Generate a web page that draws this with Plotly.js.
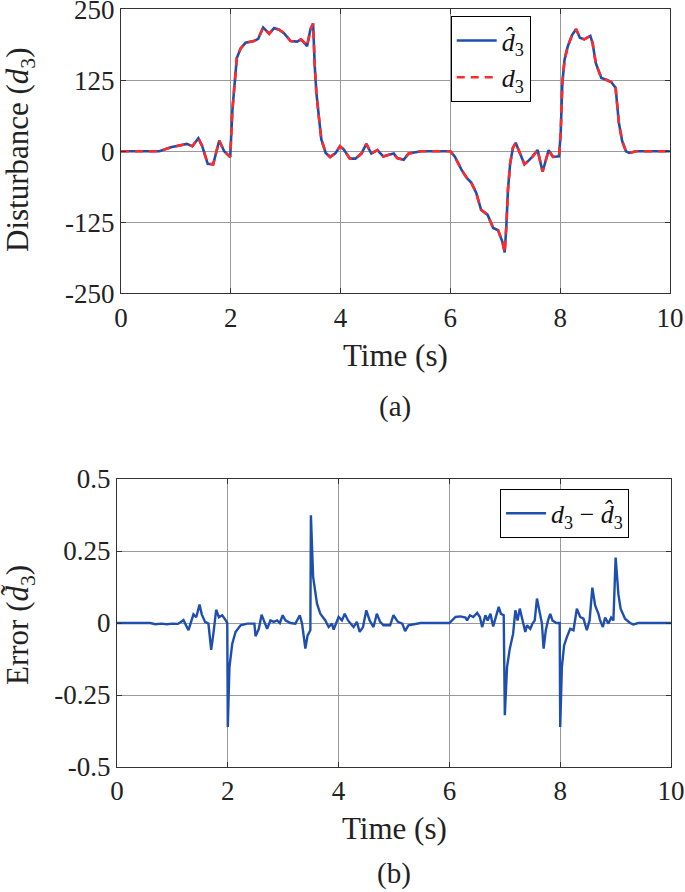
<!DOCTYPE html>
<html>
<head>
<meta charset="utf-8">
<script src="https://cdn.plot.ly/plotly-3.0.1.min.js"></script>
<style>html,body{margin:0;padding:0;background:#fff;}#chart{width:685px;height:892px;}</style>
</head>
<body>
<div id="chart"></div>
<script>
// ---- Data ----
// (a) Disturbance d3 and its estimate (visually identical in the figure)
const timeA = [0,0.70,0.91,1.09,1.2,1.3,1.41,1.48,1.58,1.68,1.79,1.88,1.99,2.03,2.07,2.11,2.18,2.27,2.42,2.5,2.59,2.7,2.79,2.88,2.97,3.09,3.21,3.28,3.33,3.39,3.45,3.5,3.53,3.56,3.61,3.65,3.73,3.81,3.91,3.99,4.06,4.17,4.27,4.38,4.47,4.56,4.67,4.78,4.88,4.97,5.03,5.15,5.24,5.29,5.47,6.0,6.08,6.2,6.3,6.38,6.47,6.56,6.68,6.78,6.87,6.95,6.99,7.02,7.05,7.09,7.14,7.19,7.26,7.35,7.43,7.5,7.59,7.68,7.75,7.79,7.87,7.98,8.01,8.04,8.08,8.14,8.22,8.29,8.36,8.44,8.55,8.59,8.65,8.75,8.84,8.93,9.01,9.07,9.13,9.2,9.26,9.38,10];
const d3Values = [0,0,7,10,13,9,23,9,-22,-23,19,0,-10,73,126,164,181,191,194,198,218,207,217,214,208,194,193,197,192,185,214,225,150,103,56,21,-3,-10,-3,9,3,-13,-13,-4,13,-4,2,-9,-6,-4,-12,-15,-4,-3,0,0,-9,-32,-47,-55,-73,-103,-112,-135,-139,-160,-178,-132,-67,-21,6,15,-3,-23,-16,-9,2,-36,-12,2,-10,-9,32,120,161,185,205,215,200,197,203,191,155,129,126,122,112,50,18,0,-3,0,0];
const d3HatValues = d3Values; // estimate overlaps the true disturbance in the figure

// (b) Estimation error d3 - d3hat
const timeB = [0,0.6,0.69,0.8,0.9,1.0,1.1,1.2,1.29,1.32,1.38,1.43,1.49,1.53,1.59,1.65,1.7,1.74,1.79,1.84,1.9,1.96,1.99,2.0,2.03,2.08,2.14,2.23,2.35,2.48,2.5,2.56,2.61,2.66,2.71,2.77,2.83,2.89,2.94,2.99,3.04,3.13,3.22,3.3,3.34,3.4,3.44,3.49,3.5,3.54,3.58,3.61,3.67,3.76,3.82,3.88,3.91,4.0,4.06,4.11,4.17,4.21,4.27,4.33,4.38,4.44,4.5,4.56,4.63,4.69,4.75,4.81,4.93,4.99,5.07,5.15,5.2,5.26,5.35,5.48,6.0,6.11,6.2,6.29,6.32,6.37,6.43,6.5,6.55,6.59,6.65,6.69,6.74,6.79,6.83,6.89,6.93,6.98,7.0,7.04,7.09,7.15,7.19,7.23,7.27,7.31,7.37,7.4,7.46,7.5,7.54,7.58,7.63,7.67,7.7,7.74,7.78,7.82,7.86,7.93,7.99,8.0,8.03,8.07,8.12,8.18,8.24,8.3,8.36,8.42,8.48,8.53,8.58,8.63,8.69,8.72,8.77,8.81,8.87,8.92,8.96,9.0,9.05,9.09,9.17,9.26,9.32,9.41,10];
const errValues = [0,0,-0.004,-0.002,-0.004,-0.002,-0.003,0.01,-0.025,-0.008,0.03,0.02,0.064,0.03,0.004,-0.002,-0.093,-0.037,0.046,0.02,0.027,0.01,0,-0.361,-0.153,-0.072,-0.031,-0.008,-0.002,-0.002,-0.046,-0.02,0.029,0.004,-0.02,0.009,0.004,0.009,0,0.027,0.009,0,-0.002,0.027,-0.002,-0.089,-0.043,-0.025,0.374,0.16,0.113,0.067,0.032,0.009,-0.014,-0.002,-0.023,0.021,0.009,0.032,0.009,-0.002,-0.014,0.004,-0.031,-0.014,0.044,0.009,-0.014,0.032,0.004,-0.008,-0.008,0.027,0.004,-0.002,-0.028,-0.008,-0.005,0,0,0.021,0.023,0.019,0.009,0.027,0.021,0.035,0.021,-0.014,0.027,0.009,0.032,-0.012,0.015,0.056,0.032,0.027,-0.32,-0.153,-0.089,-0.037,0.044,0.009,0.05,0.021,-0.031,-0.008,-0.02,-0.002,0.009,0.085,0.032,-0.002,-0.089,-0.025,0.009,0.032,0.009,0,0,-0.361,-0.153,-0.078,-0.049,-0.02,-0.025,0.05,0.021,0.015,-0.025,0.009,0.123,0.061,0.032,0.009,-0.014,0.019,-0.002,0.019,0.009,0.227,0.10,0.05,0.015,0,-0.005,0,0];

// Tick labels
const xTickVals = [0,2,4,6,8,10];
const xTickText = ['0','2','4','6','8','10'];
const yTickValsA = [-250,-125,0,125,250];
const yTickTextA = ['-250','-125','0','125','250'];
const yTickValsB = [-0.5,-0.25,0,0.25,0.5];
const yTickTextB = ['-0.5','-0.25','0','0.25','0.5'];

// Labels
const labelHat = '<i>d\u0302</i><sub>3</sub>';
const labelD3 = '<i>d</i><sub>3</sub>';
const labelErr = '<i>d</i><sub>3</sub> \u2212 <i>d\u0302</i><sub>3</sub>';

const FONT = '"Liberation Serif", "Times New Roman", "DejaVu Serif", serif';
const BLUE = '#1f4fae';
const RED = '#ff2a2a';

const traces = [
  {x: timeA, y: d3HatValues, type: 'scatter', mode: 'lines', name: labelHat,
   line: {color: BLUE, width: 2.6}, xaxis: 'x', yaxis: 'y', legend: 'legend'},
  {x: timeA, y: d3Values, type: 'scatter', mode: 'lines', name: labelD3,
   line: {color: RED, width: 2.6, dash: '8px,6px'}, xaxis: 'x', yaxis: 'y', legend: 'legend'},
  {x: timeB, y: errValues, type: 'scatter', mode: 'lines', name: labelErr,
   line: {color: BLUE, width: 2.4}, xaxis: 'x2', yaxis: 'y2', legend: 'legend2'}
];

const axCommon = {
  showline: true, linecolor: '#333', linewidth: 1, mirror: 'ticks',
  ticks: 'inside', ticklen: 5, tickcolor: '#333',
  showgrid: true, gridcolor: '#9a9a9a', gridwidth: 1,
  zeroline: false, automargin: false, ticklabeloverflow: 'allow',
  tickfont: {family: FONT, size: 27, color: '#222'}
};

const layout = {
  width: 685, height: 892,
  margin: {l: 0, r: 0, t: 0, b: 0},
  paper_bgcolor: '#fff', plot_bgcolor: '#fff',
  font: {family: FONT, color: '#222'},
  xaxis: Object.assign({}, axCommon, {domain: [0.1766, 0.978], range: [0, 10],
    tickmode: 'array', tickvals: xTickVals, ticktext: xTickText, anchor: 'y'}),
  yaxis: Object.assign({}, axCommon, {domain: [0.6712, 0.9896], range: [-250, 250],
    tickmode: 'array', tickvals: yTickValsA, ticktext: yTickTextA, anchor: 'x'}),
  xaxis2: Object.assign({}, axCommon, {domain: [0.1708, 0.9796], range: [0, 10],
    tickmode: 'array', tickvals: xTickVals, ticktext: xTickText, anchor: 'y2'}),
  yaxis2: Object.assign({}, axCommon, {domain: [0.1401, 0.463], range: [-0.5, 0.5],
    tickmode: 'array', tickvals: yTickValsB, ticktext: yTickTextB, anchor: 'x2'}),
  showlegend: true,
  legend: {x: 0.658, y: 0.982, xanchor: 'left', yanchor: 'top',
    bgcolor: '#fff', bordercolor: '#000', borderwidth: 1, itemwidth: 40,
    font: {family: FONT, size: 26, color: '#111'}, tracegroupgap: 0},
  legend2: {x: 0.730, y: 0.452, xanchor: 'left', yanchor: 'top',
    bgcolor: '#fff', bordercolor: '#000', borderwidth: 1, itemwidth: 40,
    font: {family: FONT, size: 26, color: '#111'}},
  annotations: [
    {text: 'Disturbance (<i>d</i><sub>3</sub>)', xref: 'paper', yref: 'paper',
     x: 20/685, y: 1 - 150/892, textangle: -90, showarrow: false,
     xanchor: 'center', yanchor: 'middle', font: {family: FONT, size: 31, color: '#222'}},
    {text: 'Time (s)', xref: 'paper', yref: 'paper',
     x: 395/685, y: 1 - 355/892, showarrow: false,
     xanchor: 'center', yanchor: 'middle', font: {family: FONT, size: 31, color: '#222'}},
    {text: '(a)', xref: 'paper', yref: 'paper',
     x: 395/685, y: 1 - 407/892, showarrow: false,
     xanchor: 'center', yanchor: 'middle', font: {family: FONT, size: 29, color: '#222'}},
    {text: 'Error (<i>d\u0303</i><sub>3</sub>)', xref: 'paper', yref: 'paper',
     x: 20/685, y: 1 - 625/892, textangle: -90, showarrow: false,
     xanchor: 'center', yanchor: 'middle', font: {family: FONT, size: 31, color: '#222'}},
    {text: 'Time (s)', xref: 'paper', yref: 'paper',
     x: 394/685, y: 1 - 828/892, showarrow: false,
     xanchor: 'center', yanchor: 'middle', font: {family: FONT, size: 31, color: '#222'}},
    {text: '(b)', xref: 'paper', yref: 'paper',
     x: 394/685, y: 1 - 873/892, showarrow: false,
     xanchor: 'center', yanchor: 'middle', font: {family: FONT, size: 29, color: '#222'}}
  ]
};

Plotly.newPlot('chart', traces, layout, {displayModeBar: false, staticPlot: true});
</script>
</body>
</html>
